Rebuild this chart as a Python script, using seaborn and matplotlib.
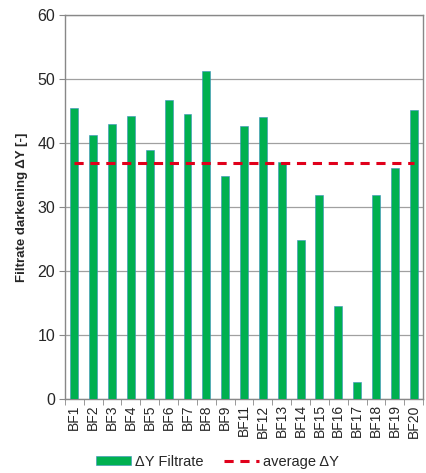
import seaborn as sns
import matplotlib.pyplot as plt
from matplotlib.ticker import FixedLocator

# data
samples = ["BF1", "BF2", "BF3", "BF4", "BF5", "BF6", "BF7", "BF8", "BF9", "BF11",
           "BF12", "BF13", "BF14", "BF15", "BF16", "BF17", "BF18", "BF19", "BF20"]
delta_y = [45.5, 41.3, 43.0, 44.2, 38.9, 46.7, 44.5, 51.2, 34.9, 42.7,
           44.1, 37.0, 24.8, 31.9, 14.5, 2.6, 31.9, 36.1, 45.2]
avg_delta_y = 36.9

sns.set_style("white")
plt.rcParams["font.family"] = ["Liberation Sans", "DejaVu Sans"]

fig = plt.figure(figsize=(4.27, 4.73), dpi=100)
ax = fig.add_axes([0.152, 0.157, 0.839, 0.811])

sns.barplot(x=samples, y=delta_y, color="#00B050", width=0.42, saturation=1,
            edgecolor="#3A8FC0", linewidth=0.4, ax=ax, label="\u0394Y Filtrate", zorder=3)

ax.plot(range(len(samples)), [avg_delta_y] * len(samples), color="#E0001B",
        linestyle=(0, (3, 2.2)), linewidth=2.2, label="average \u0394Y", zorder=4)

ax.set_ylim(0, 60)
ax.set_xlim(-0.5, len(samples) - 0.5)
ax.set_yticks(range(0, 61, 10))
ax.yaxis.grid(True, color="#A0A0A0", linewidth=0.9, zorder=0)
ax.set_axisbelow(True)

for s in ax.spines.values():
    s.set_color("#888888")
    s.set_linewidth(1.0)

ax.tick_params(axis="y", labelsize=11.5, length=4, color="#888888", left=True, pad=3)
ax.tick_params(axis="x", labelsize=10, rotation=90, length=0, pad=4)
ax.xaxis.set_minor_locator(FixedLocator([i - 0.5 for i in range(len(samples) + 1)]))
ax.tick_params(axis="x", which="minor", length=4, color="#888888", bottom=True)

ax.set_xlabel("")
ax.set_ylabel("Filtrate darkening \u0394Y [-]", fontsize=9.5, fontweight="bold", labelpad=7)

handles, labels = ax.get_legend_handles_labels()
order = [labels.index("\u0394Y Filtrate"), labels.index("average \u0394Y")]
if ax.get_legend():
    ax.get_legend().remove()
fig.legend([handles[i] for i in order], [labels[i] for i in order], loc="center",
           bbox_to_anchor=(0.509, 0.024), ncol=2, frameon=False, fontsize=10.5,
           handlelength=2.4, handleheight=0.5, columnspacing=1.4, handletextpad=0.3)

fig.savefig("out.png", dpi=100)
